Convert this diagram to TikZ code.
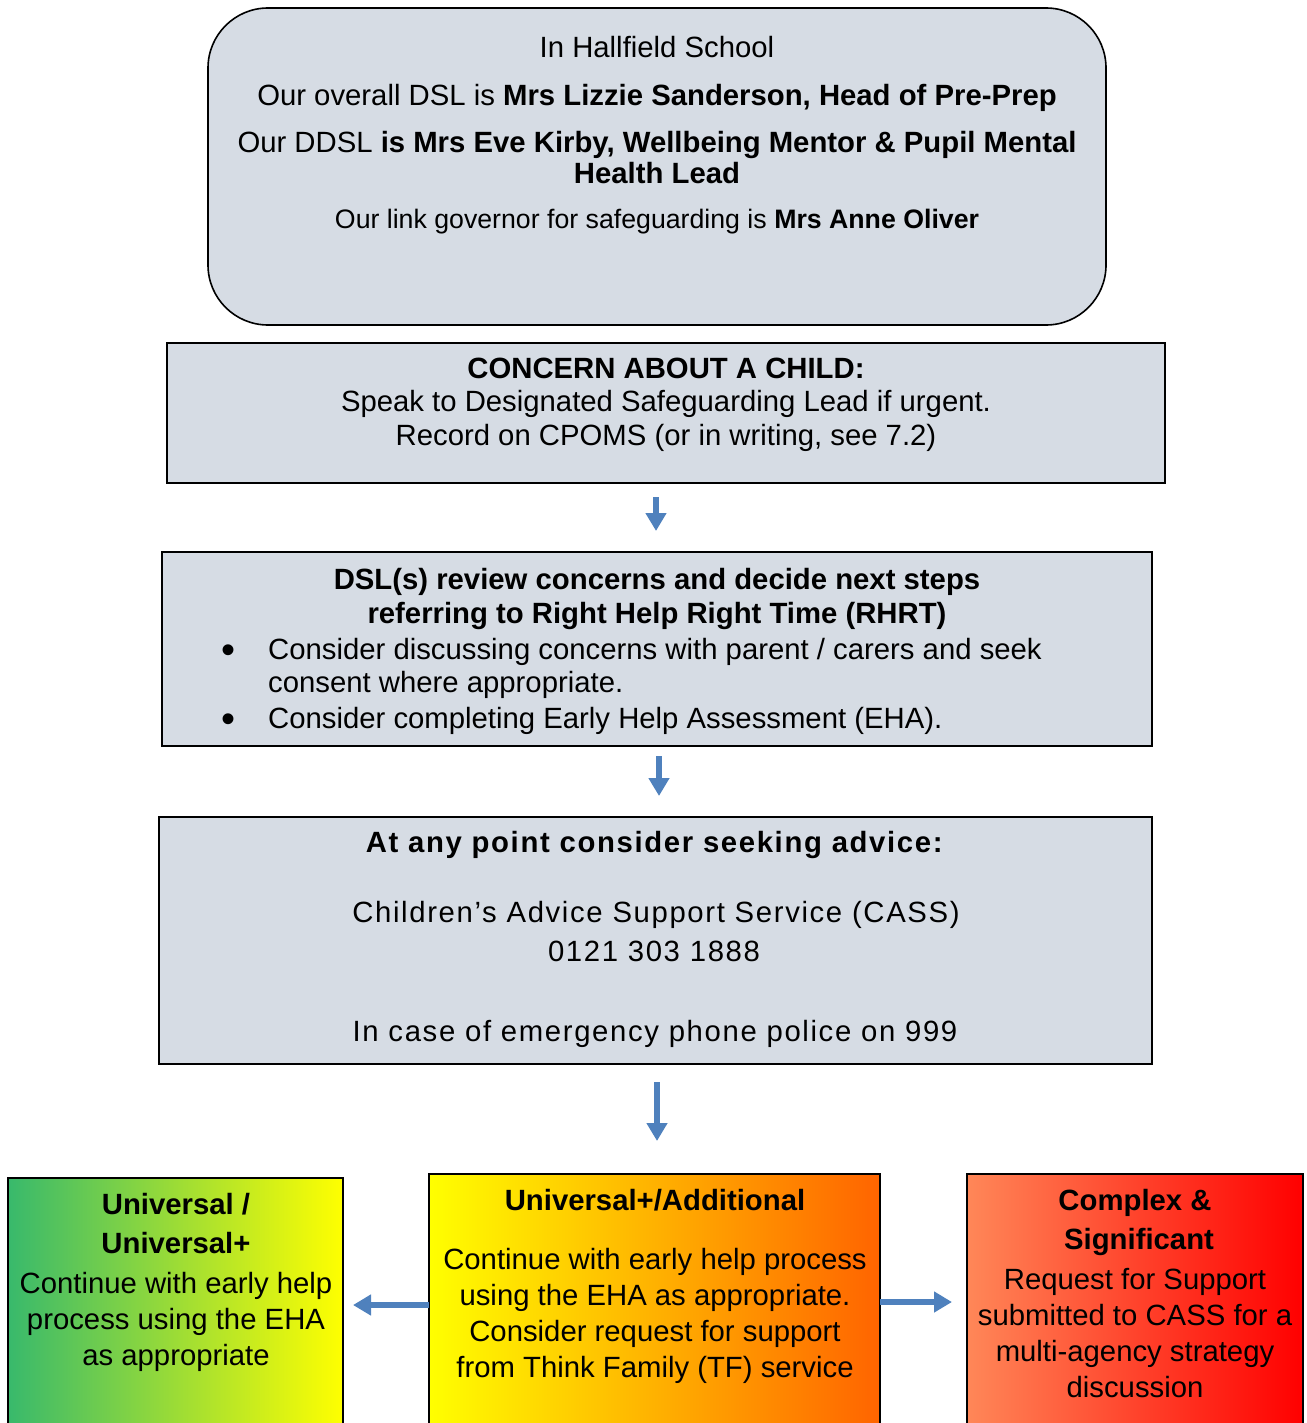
\documentclass[tikz,border=0pt]{standalone}
\usepackage{fontspec}
\setmainfont{Liberation Sans}
\usetikzlibrary{arrows.meta}
\definecolor{boxfill}{HTML}{D6DCE4}
\definecolor{arrblue}{HTML}{4F81BD}
\definecolor{gGreen}{HTML}{38B96C}
\definecolor{gYellow}{HTML}{FFFF00}
\definecolor{gOrange}{HTML}{FF6400}
\definecolor{gSalmon}{HTML}{FF8758}
\definecolor{gRed}{HTML}{FF0000}
\tikzset{
  greybox/.style={draw=black, line width=1.6pt, fill=boxfill, inner sep=0pt, outer sep=0pt},
  tierbox/.style={draw=black, line width=1.6pt, inner sep=0pt, outer sep=0pt},
  txt/.style={anchor=base, inner sep=0pt, font=\fontsize{29.3}{34}\selectfont},
  txtsmall/.style={anchor=base, inner sep=0pt, font=\fontsize{26.7}{31}\selectfont},
  txtwide/.style={anchor=base, inner sep=0pt, font=\fontsize{29.3}{34}\selectfont\addfontfeature{LetterSpace=5.6}},
  txtleft/.style={anchor=base west, inner sep=0pt, font=\fontsize{29.3}{34}\selectfont},
  bullet/.style={anchor=base, inner sep=0pt, font=\fontsize{40}{40}\selectfont},
  arr/.style={draw=arrblue, line width=6pt, -{Triangle[width=20pt,length=18pt]}},
}
\begin{document}
\begin{tikzpicture}[x=1pt,y=-1pt]
\clip (0,0) rectangle (1306,1423);
% boxes
\node[greybox, rounded corners=60pt, minimum width=898pt, minimum height=317pt] (top) at (657,166.5) {};
\node[greybox, minimum width=998pt, minimum height=140pt] (b2) at (666,413) {};
\node[greybox, minimum width=990pt, minimum height=194pt] (b3) at (657,649) {};
\node[greybox, minimum width=993pt, minimum height=247pt] (b4) at (655.5,940.5) {};
\node[tierbox, left color=gGreen, right color=gYellow, minimum width=335pt, minimum height=262pt] (L) at (175.5,1309) {};
\node[tierbox, left color=gYellow, right color=gOrange, minimum width=451pt, minimum height=266pt] (M) at (654.5,1307) {};
\node[tierbox, left color=gSalmon, right color=gRed, minimum width=336pt, minimum height=266pt] (R) at (1135,1307) {};

% top box text
\node[txt] (t1) at (657,58) {In Hallfield School};
\node[txt] (t2) at (657,106) {Our overall DSL is \textbf{Mrs Lizzie Sanderson, Head of Pre-Prep}};
\node[txt] (t3) at (657,153) {Our DDSL \textbf{is Mrs Eve Kirby, Wellbeing Mentor \& Pupil Mental}};
\node[txt] (t4) at (657,184) {\textbf{Health Lead}};
\node[txtsmall] (t5) at (657,229) {Our link governor for safeguarding is \textbf{Mrs Anne Oliver}};

% concern box
\node[txt] (c1) at (666,378) {\textbf{CONCERN ABOUT A CHILD:}};
\node[txt] (c2) at (666,411) {Speak to Designated Safeguarding Lead if urgent.};
\node[txt] (c3) at (666,445) {Record on CPOMS (or in writing, see 7.2)};

% DSL review box
\node[txt] (d1) at (657,589) {\textbf{DSL(s) review concerns and decide next steps}};
\node[txt] (d2) at (657,623) {\textbf{referring to Right Help Right Time (RHRT)}};
\node[bullet] (bu1) at (228,663) {•};
\node[txtleft] (d3) at (268,659) {Consider discussing concerns with parent / carers and seek};
\node[txtleft] (d4) at (268,692) {consent where appropriate.};
\node[bullet] (bu2) at (228,732) {•};
\node[txtleft] (d5) at (268,728) {Consider completing Early Help Assessment (EHA).};

% advice box
\node[txtwide] (a1) at (655,852) {\textbf{At any point consider seeking advice:}};
\node[txtwide] (a2) at (656,922) {Children’s Advice Support Service (CASS)};
\node[txtwide] (a3) at (654,961) {0121 303 1888};
\node[txtwide] (a4) at (655,1041) {In case of emergency phone police on 999};

% left tier
\node[txt] (l1) at (176,1214) {\textbf{Universal /}};
\node[txt] (l2) at (176,1253) {\textbf{Universal+}};
\node[txt] (l3) at (176,1293) {Continue with early help};
\node[txt] (l4) at (176,1329) {process using the EHA};
\node[txt] (l5) at (176,1365) {as appropriate};

% middle tier
\node[txt] (m1) at (655,1210) {\textbf{Universal+/Additional}};
\node[txt] (m2) at (655,1269) {Continue with early help process};
\node[txt] (m3) at (655,1305) {using the EHA as appropriate.};
\node[txt] (m4) at (655,1341) {Consider request for support};
\node[txt] (m5) at (655,1377) {from Think Family (TF) service};

% right tier
\node[txt] (r1) at (1135,1210) {\textbf{Complex \&}};
\node[txt] (r2) at (1139,1249) {\textbf{Significant}};
\node[txt] (r3) at (1135,1289) {Request for Support};
\node[txt] (r4) at (1135,1325) {submitted to CASS for a};
\node[txt] (r5) at (1135,1361) {multi-agency strategy};
\node[txt] (r6) at (1135,1397) {discussion};

% arrows
\coordinate (x1) at (656,0);
\coordinate (x2) at (659,0);
\coordinate (x3) at (657,0);
\coordinate (yl) at (0,1305);
\coordinate (yr) at (0,1302);
\draw[arr, shorten <=14pt, shorten >=21pt] (b2.south -| x1) -- (b3.north -| x1);
\draw[arr, shorten <=10pt, shorten >=21pt] (b3.south -| x2) -- (b4.north -| x2);
\draw[arr, shorten <=18pt, shorten >=33pt] (b4.south -| x3) -- (M.north -| x3);
\draw[arr, shorten >=10pt] (M.west |- yl) -- (L.east |- yl);
\draw[arr, shorten >=15pt] (M.east |- yr) -- (R.west |- yr);
\end{tikzpicture}
\end{document}
